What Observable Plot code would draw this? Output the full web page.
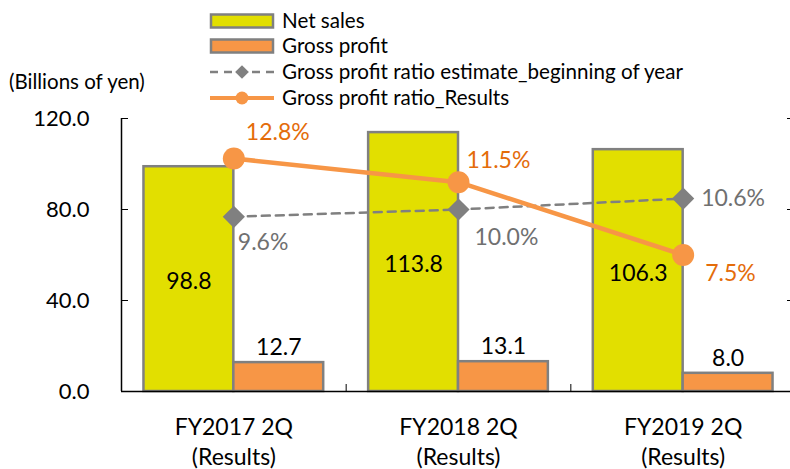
<!DOCTYPE html>
<html><head><meta charset="utf-8">
<script src="https://cdn.jsdelivr.net/npm/d3@7"></script>
<script src="https://cdn.jsdelivr.net/npm/@observablehq/plot@0.6"></script>
<style>
body{margin:0;background:#fff;overflow:hidden;font-family:Lato,sans-serif;}
#wrap{width:790px;height:469px;overflow:hidden;position:relative;background:#fff;}
#legend{display:block;width:790px;height:100px;overflow:visible;position:relative;z-index:2;}
#chart{width:790px;overflow:hidden;}
#chart svg{max-width:none !important;}
</style></head><body>
<div id="wrap"><svg id="legend" width="790" height="100"></svg><div id="chart"></div></div>
<script>
// ---- data ----
const categories = ["FY2017 2Q\n(Results)", "FY2018 2Q\n(Results)", "FY2019 2Q\n(Results)"];
const netSales = [98.8, 113.8, 106.3];
const grossProfit = [12.7, 13.1, 8.0];
const ratioEstimate = [9.6, 10.0, 10.6];
const ratioResults = [12.8, 11.5, 7.5];
const yTicks = [0, 40, 80, 120];
const yMax = 120;        // primary axis max (billions of yen)
const ratioMax = 15;     // secondary axis max (%)
const seriesNames = ["Net sales", "Gross profit", "Gross profit ratio estimate_beginning of year", "Gross profit ratio_Results"];
const unitLabel = "(Billions of yen)";

// ---- colours ----
const cYellow = "#E2DF00", cOrange = "#F79646", cBorder = "#808080", cGray = "#808080";
const cOrangeText = "#E46C0A", cGrayText = "#707070";

// ---- legend ----
const lg = d3.select("#legend");
const rowY = [21, 46, 72, 98];
const sx0 = 210, sx1 = 274, tx = 282;
[[cYellow, 0], [cOrange, 1]].forEach(([fill, k]) => {
  lg.append("rect").attr("x", sx0 + 1).attr("y", rowY[k] - 6.5).attr("width", sx1 - sx0 - 2).attr("height", 13)
    .attr("fill", fill).attr("stroke", cBorder).attr("stroke-width", 2.5);
});
lg.append("line").attr("x1", sx0).attr("x2", sx1).attr("y1", rowY[2]).attr("y2", rowY[2])
  .attr("stroke", cGray).attr("stroke-width", 2.5).attr("stroke-dasharray", "8,6");
lg.append("path").attr("d", d3.symbol(d3.symbolDiamond2, 120)()).attr("transform", `translate(${(sx0+sx1)/2},${rowY[2]})`).attr("fill", cGray);
lg.append("line").attr("x1", sx0).attr("x2", sx1).attr("y1", rowY[3]).attr("y2", rowY[3])
  .attr("stroke", cOrange).attr("stroke-width", 4);
lg.append("circle").attr("cx", (sx0+sx1)/2).attr("cy", rowY[3]).attr("r", 6.5).attr("fill", cOrange);
seriesNames.forEach((s, k) => {
  lg.append("text").attr("x", tx).attr("y", rowY[k]).attr("dy", "0.35em").attr("font-size", 20.6)
    .attr("font-family", "Lato").attr("fill", "#000").text(s);
});
lg.append("text").attr("x", 9).attr("y", 82).attr("dy", "0.35em").attr("font-size", 20.5)
  .attr("font-family", "Lato").attr("fill", "#000").text(unitLabel);

// ---- chart ----
const idx = categories.map((c, i) => i);
const xDomain = [-0.5, categories.length - 0.5];
const toY = r => r * yMax / ratioMax;
const bars = idx.map(i => ({i, sales: netSales[i], gp: grossProfit[i], est: ratioEstimate[i], res: ratioResults[i]}));
const barW = 0.4;

const resOffsets = [{dx: 12, dy: -26}, {dx: 8, dy: -22}, {dx: 22, dy: 19}];
const estOffsets = [{dx: 4, dy: 26}, {dx: 16, dy: 28}, {dx: 18, dy: 0}];

const chart = Plot.plot({
  width: 800,
  height: 369,
  marginLeft: 121,
  marginRight: 5,
  marginTop: 18,
  marginBottom: 78,
  style: {fontFamily: "Lato", fontSize: "22px", color: "#000", background: "transparent", overflow: "visible", maxWidth: "none"},
  x: {type: "linear", domain: xDomain, axis: null},
  y: {domain: [0, yMax], axis: null},
  marks: [
    Plot.rectY(bars, {x1: d => d.i - barW, x2: d => d.i, y: "sales", fill: cYellow, stroke: cBorder, strokeWidth: 2.5}),
    Plot.rectY(bars, {x1: d => d.i, x2: d => d.i + barW, y: "gp", fill: cOrange, stroke: cBorder, strokeWidth: 2.5}),
    Plot.text(bars, {x: d => d.i - barW / 2, y: d => d.sales / 2, text: d => d.sales.toFixed(1), fontSize: 23, fill: "#000", dy: 3}),
    Plot.text(bars, {x: d => d.i + barW / 2, y: "gp", text: d => d.gp.toFixed(1), fontSize: 23, fill: "#000", dy: -15}),
    // axes
    Plot.ruleY([0], {stroke: "#000", strokeWidth: 1.5}),
    Plot.ruleX([xDomain[0]], {stroke: "#000", strokeWidth: 1.5}),
    Plot.axisY({ticks: yTicks, tickSize: 0, tickPadding: 32, tickFormat: d => d.toFixed(1), fontSize: 22, label: null}),
    Plot.axisY({ticks: yTicks, tickSize: -7, tickFormat: () => "", label: null}),
    Plot.axisY({anchor: "right", ticks: yTicks, tickSize: -9, tickFormat: () => "", label: null}),
    Plot.axisX({ticks: idx, tickSize: 0, tickPadding: 22, tickFormat: i => categories[i], fontSize: 23, lineHeight: 1.3, label: null}),
    Plot.axisX({ticks: idx.slice(1).map(i => i - 0.5), tickSize: -7, tickFormat: () => "", label: null}),
    // ratio lines
    Plot.lineY(bars, {x: "i", y: d => toY(d.est), stroke: cGray, strokeWidth: 2.5, strokeDasharray: "8,6"}),
    Plot.dot(bars, {x: "i", y: d => toY(d.est), symbol: "diamond2", r: 10, fill: cGray, stroke: null}),
    Plot.lineY(bars, {x: "i", y: d => toY(d.res), stroke: cOrange, strokeWidth: 4.5}),
    Plot.dot(bars, {x: "i", y: d => toY(d.res), r: 11, fill: cOrange, stroke: null}),
    ...idx.map(k => Plot.text([bars[k]], {x: "i", y: d => toY(d.res), text: d => d.res.toFixed(1) + "%", fill: cOrangeText, fontSize: 23, textAnchor: "start", ...resOffsets[k]})),
    ...idx.map(k => Plot.text([bars[k]], {x: "i", y: d => toY(d.est), text: d => d.est.toFixed(1) + "%", fill: cGrayText, fontSize: 23, textAnchor: "start", ...estOffsets[k]}))
  ]
});
document.getElementById("chart").appendChild(chart);
</script>
</body></html>
